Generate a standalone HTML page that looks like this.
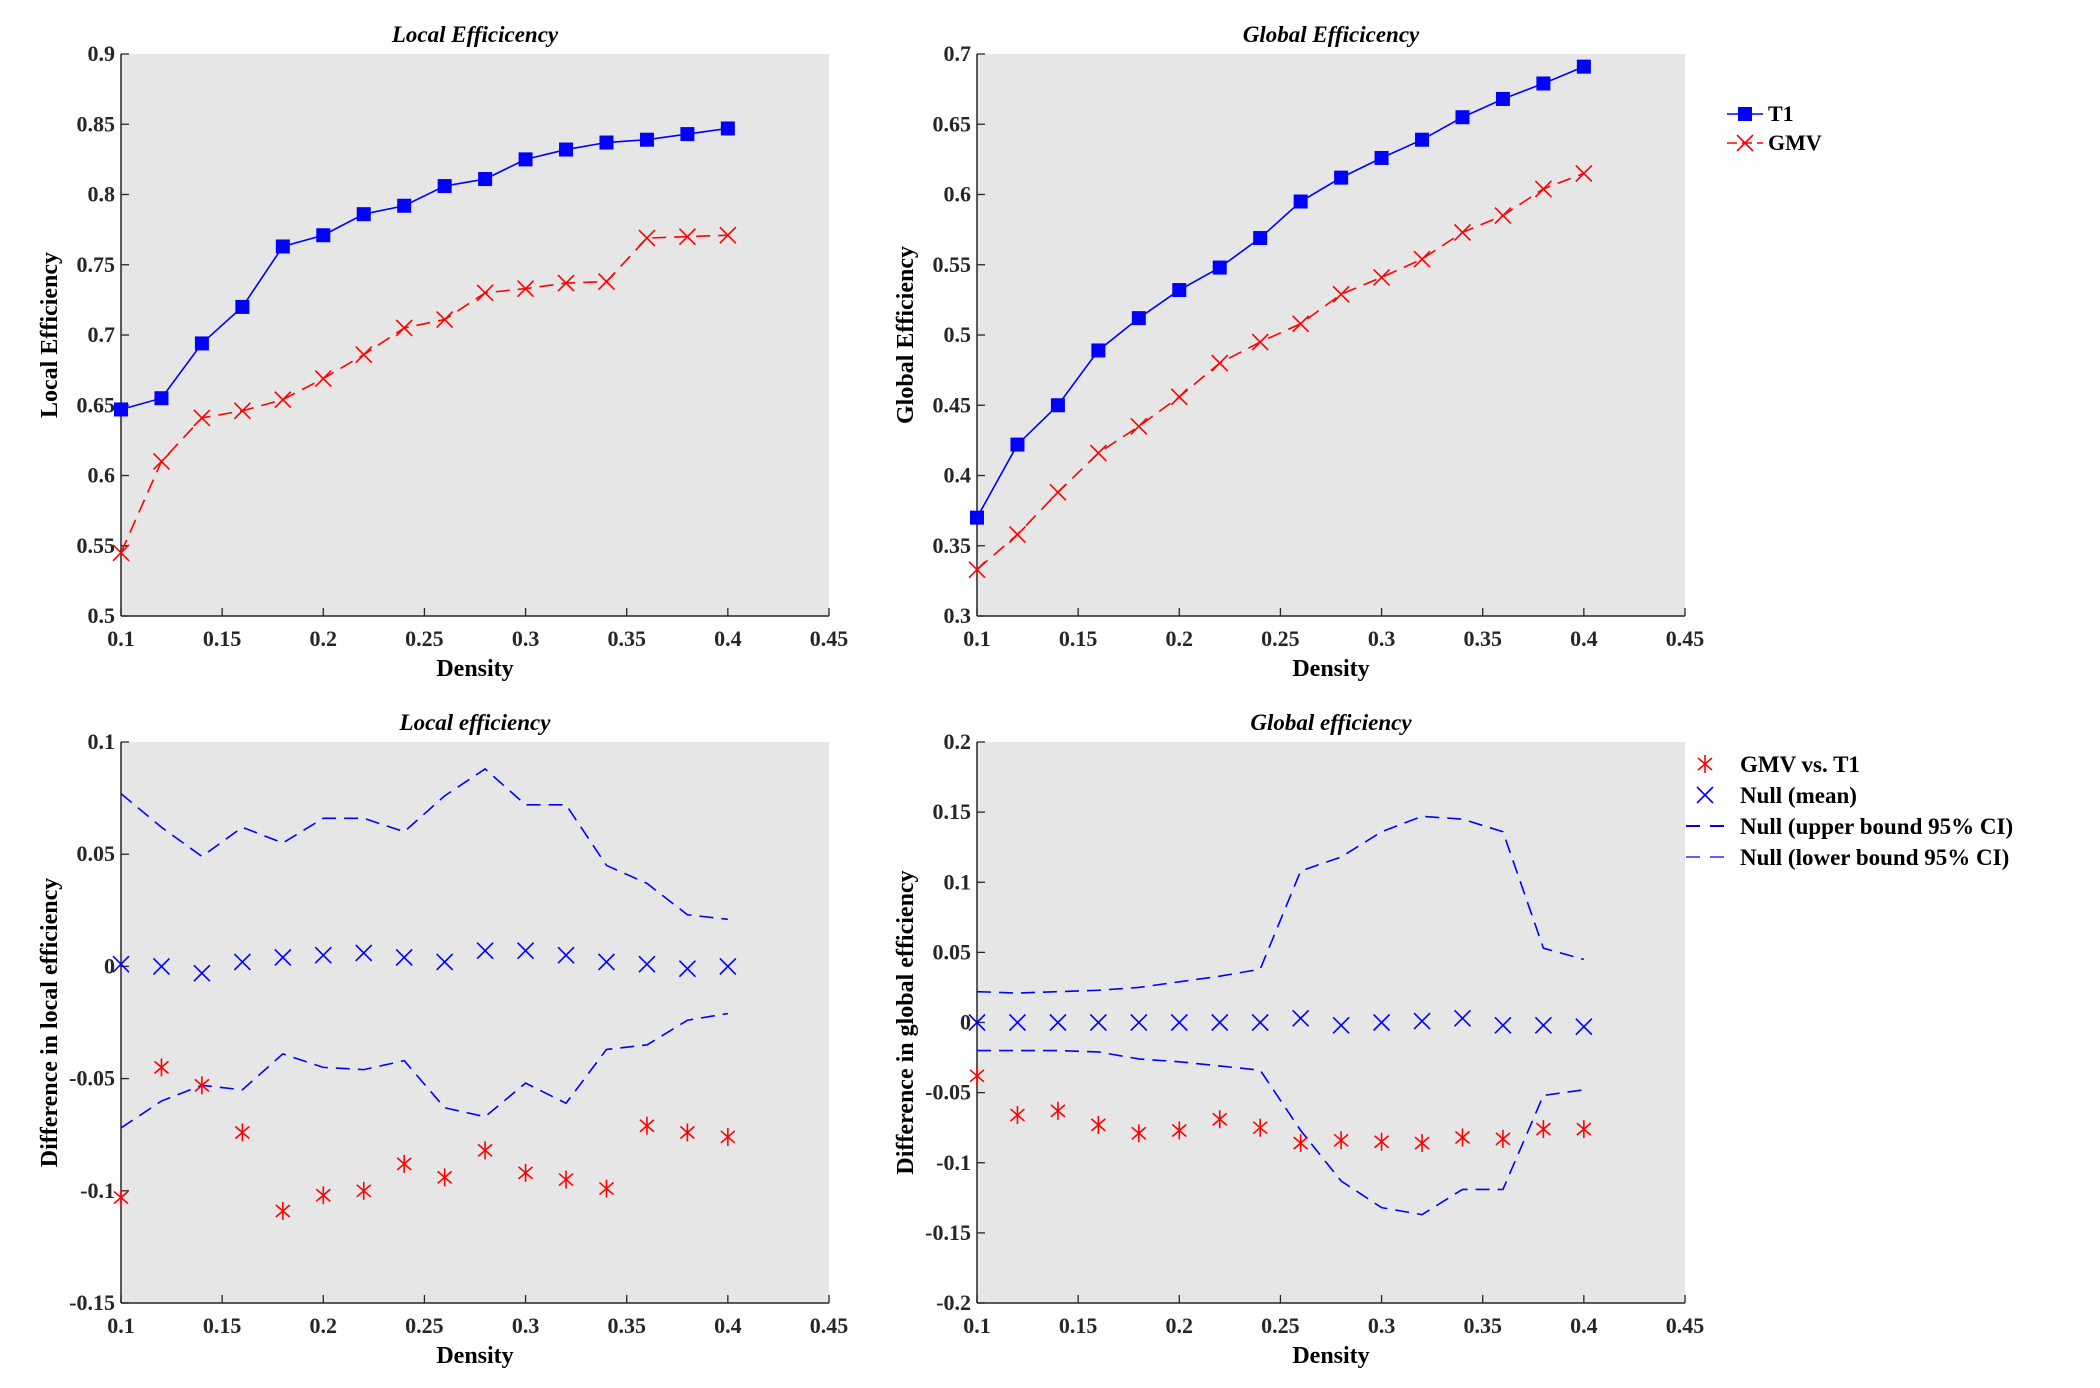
<!DOCTYPE html>
<html><head><meta charset="utf-8">
<style>
html,body{margin:0;padding:0;background:#fff;}
svg text{font-family:"Liberation Serif",serif;}
</style></head>
<body>
<svg id="fig" width="2100" height="1383" viewBox="0 0 2100 1383" xmlns="http://www.w3.org/2000/svg"></svg>
<script>
const xVals=[0.1,0.12,0.14,0.16,0.18,0.2,0.22,0.24,0.26,0.28,0.3,0.32,0.34,0.36,0.38,0.4];
const xTicks=[0.1,0.15,0.2,0.25,0.3,0.35,0.4,0.45];
const localT1=[0.647,0.655,0.694,0.720,0.763,0.771,0.786,0.792,0.806,0.811,0.825,0.832,0.837,0.839,0.843,0.847];
const localGMV=[0.545,0.610,0.641,0.646,0.654,0.669,0.686,0.705,0.711,0.730,0.733,0.737,0.738,0.769,0.770,0.771];
const globalT1=[0.370,0.422,0.450,0.489,0.512,0.532,0.548,0.569,0.595,0.612,0.626,0.639,0.655,0.668,0.679,0.691];
const globalGMV=[0.333,0.358,0.388,0.416,0.435,0.456,0.480,0.495,0.508,0.529,0.541,0.554,0.573,0.585,0.604,0.615];
const locUpper=[0.077,0.062,0.049,0.062,0.055,0.066,0.066,0.060,0.076,0.088,0.072,0.072,0.045,0.037,0.023,0.021];
const locMean=[0.001,0,-0.003,0.002,0.004,0.005,0.006,0.004,0.002,0.007,0.007,0.005,0.002,0.001,-0.001,0];
const locLower=[-0.072,-0.060,-0.053,-0.055,-0.039,-0.045,-0.046,-0.042,-0.063,-0.067,-0.052,-0.061,-0.037,-0.035,-0.024,-0.021];
const locDiff=[-0.103,-0.045,-0.053,-0.074,-0.109,-0.102,-0.100,-0.088,-0.094,-0.082,-0.092,-0.095,-0.099,-0.071,-0.074,-0.076];
const gloUpper=[0.022,0.021,0.022,0.023,0.025,0.029,0.033,0.038,0.108,0.118,0.136,0.147,0.145,0.136,0.053,0.045];
const gloMean=[0,0,0,0,0,0,0,0,0.003,-0.002,0,0.001,0.003,-0.002,-0.002,-0.003];
const gloLower=[-0.020,-0.020,-0.020,-0.021,-0.026,-0.028,-0.031,-0.034,-0.077,-0.113,-0.132,-0.137,-0.119,-0.119,-0.052,-0.048];
const gloDiff=[-0.038,-0.066,-0.063,-0.073,-0.079,-0.077,-0.069,-0.075,-0.086,-0.084,-0.085,-0.086,-0.082,-0.083,-0.076,-0.076];
const yTicksLocal=[0.5,0.55,0.6,0.65,0.7,0.75,0.8,0.85,0.9];
const yTicksGlobal=[0.3,0.35,0.4,0.45,0.5,0.55,0.6,0.65,0.7];
const yTicksLocDiff=[-0.15,-0.1,-0.05,0,0.05,0.1];
const yTicksGloDiff=[-0.2,-0.15,-0.1,-0.05,0,0.05,0.1,0.15,0.2];

const NS="http://www.w3.org/2000/svg";
const svg=document.getElementById('fig');
function mk(tag,attrs,parent,text){
  const e=document.createElementNS(NS,tag);
  for(const k in attrs)e.setAttribute(k,attrs[k]);
  if(text!==undefined)e.textContent=text;
  (parent||svg).appendChild(e);return e;
}
function fmt(v){let s=String(Math.round(v*1000)/1000);if(s==='-0')s='0';return s;}

function panel(name,L,R,T,B,ymin,ymax,yTicks,title,ylabel){
  const g=mk('g',{});
  
  
  const sx=v=>L+(v-0.1)/(0.45-0.1)*(R-L);
  const sy=v=>B-(v-ymin)/(ymax-ymin)*(B-T);
  const bg=mk('rect',{x:L,y:T,width:R-L,height:B-T,fill:'#e6e6e6'},g);
  
  
  mk('line',{x1:L,y1:B,x2:R,y2:B,stroke:'#262626','stroke-width':1.5},g);
  mk('line',{x1:L,y1:T,x2:L,y2:B,stroke:'#262626','stroke-width':1.5},g);
  xTicks.forEach(t=>{
    const x=sx(t);
    mk('line',{x1:x,y1:B,x2:x,y2:B-8,stroke:'#262626','stroke-width':1.3},g);
    const tx=mk('text',{x:x,y:B+30,'text-anchor':'middle','font-size':22,'font-weight':'bold',fill:'#262626'},g,fmt(t));
    
    
  });
  yTicks.forEach(t=>{
    const y=sy(t);
    mk('line',{x1:L,y1:y,x2:L+8,y2:y,stroke:'#262626','stroke-width':1.3},g);
    const ty=mk('text',{x:L-6,y:y+7,'text-anchor':'end','font-size':22,'font-weight':'bold',fill:'#262626'},g,fmt(t));
    
    
  });
  const tt=mk('text',{x:(L+R)/2,y:T-12,'text-anchor':'middle','font-size':23,'font-weight':'bold','font-style':'italic',fill:'#000'},g,title);
  
  
  const xl=mk('text',{x:(L+R)/2,y:B+60,'text-anchor':'middle','font-size':24,'font-weight':'bold',fill:'#000'},g,'Density');
  
  
  const yl=mk('text',{x:0,y:0,'text-anchor':'middle','font-size':24,'font-weight':'bold',fill:'#000',transform:`translate(${L-64},${(T+B)/2}) rotate(-90)`},g,ylabel);
  
  
  return {g,sx,sy};
}
function line(p,vals,color,dash,w,name){
  const pts=vals.map((v,i)=>p.sx(xVals[i])+','+p.sy(v)).join(' ');
  const pl=mk('polyline',{points:pts,fill:'none',stroke:color,'stroke-width':w||1.6,'stroke-dasharray':dash||'none'},p.g);
  
  
}
function square(p,x,y,c){const s=mk('rect',{x:x-7,y:y-7,width:14,height:14,fill:c},p.g);}
function cross(p,x,y,c,r){r=r||8;const g=mk('g',{stroke:c,'stroke-width':1.6},p.g);
  mk('line',{x1:x-r,y1:y-r,x2:x+r,y2:y+r},g);mk('line',{x1:x-r,y1:y+r,x2:x+r,y2:y-r},g);}
function star(p,x,y,c){const g=mk('g',{stroke:c,'stroke-width':1.6},p.g);
  const r=9;mk('line',{x1:x,y1:y-r,x2:x,y2:y+r},g);mk('line',{x1:x-7,y1:y-6,x2:x+7,y2:y+6},g);mk('line',{x1:x-7,y1:y+6,x2:x+7,y2:y-6},g);}

// top-left
let p=panel('local-efficiency-panel',121,829,54,616,0.5,0.9,yTicksLocal,'Local Efficicency','Local Efficiency');
line(p,localT1,'#0000ff',null,1.6,'t1-line');
line(p,localGMV,'#ff0000','14 8',1.6,'gmv-line');
localT1.forEach((v,i)=>square(p,p.sx(xVals[i]),p.sy(v),'#0000ff'));
localGMV.forEach((v,i)=>cross(p,p.sx(xVals[i]),p.sy(v),'#ff0000'));
// top-right
p=panel('global-efficiency-panel',977,1685,54,616,0.3,0.7,yTicksGlobal,'Global Efficicency','Global Efficiency');
line(p,globalT1,'#0000ff',null,1.6,'t1-line');
line(p,globalGMV,'#ff0000','14 8',1.6,'gmv-line');
globalT1.forEach((v,i)=>square(p,p.sx(xVals[i]),p.sy(v),'#0000ff'));
globalGMV.forEach((v,i)=>cross(p,p.sx(xVals[i]),p.sy(v),'#ff0000'));
// bottom-left
p=panel('local-difference-panel',121,829,742,1303,-0.15,0.1,yTicksLocDiff,'Local efficiency','Difference in local efficiency');
line(p,locUpper,'#0000ff','14 8',1.6,'null-upper-line');
line(p,locLower,'#0000ff','14 8',1.6,'null-lower-line');
locMean.forEach((v,i)=>cross(p,p.sx(xVals[i]),p.sy(v),'#0000ff'));
locDiff.forEach((v,i)=>star(p,p.sx(xVals[i]),p.sy(v),'#ff0000'));
// bottom-right
p=panel('global-difference-panel',977,1685,742,1303,-0.2,0.2,yTicksGloDiff,'Global efficiency','Difference in global efficiency');
line(p,gloUpper,'#0000ff','14 8',1.6,'null-upper-line');
line(p,gloLower,'#0000ff','14 8',1.6,'null-lower-line');
gloMean.forEach((v,i)=>cross(p,p.sx(xVals[i]),p.sy(v),'#0000ff'));
gloDiff.forEach((v,i)=>star(p,p.sx(xVals[i]),p.sy(v),'#ff0000'));

// legends
const lg1=mk('g',{});


const lp={g:lg1};
mk('line',{x1:1727,y1:114,x2:1763,y2:114,stroke:'#0000ff','stroke-width':1.6},lg1);square(lp,1745,114,'#0000ff');
mk('text',{x:1768,y:121,'font-size':22,'font-weight':'bold'},lg1,'T1');
mk('line',{x1:1727,y1:143,x2:1763,y2:143,stroke:'#ff0000','stroke-width':1.6,'stroke-dasharray':'10 5'},lg1);cross(lp,1745,143,'#ff0000');
mk('text',{x:1768,y:150,'font-size':22,'font-weight':'bold'},lg1,'GMV');

const lg2=mk('g',{});


const lp2={g:lg2};
star(lp2,1705,764,'#ff0000');
mk('text',{x:1740,y:772,'font-size':23,'font-weight':'bold'},lg2,'GMV vs. T1');
cross(lp2,1705,795,'#0000ff');
mk('text',{x:1740,y:803,'font-size':23,'font-weight':'bold'},lg2,'Null (mean)');
mk('line',{x1:1686,y1:826,x2:1724,y2:826,stroke:'#0000ff','stroke-width':2,'stroke-dasharray':'14 10'},lg2);
mk('text',{x:1740,y:834,'font-size':23,'font-weight':'bold'},lg2,'Null (upper bound 95% CI)');
mk('line',{x1:1686,y1:857,x2:1724,y2:857,stroke:'#0000ff','stroke-width':1.3,'stroke-dasharray':'14 10'},lg2);
mk('text',{x:1740,y:865,'font-size':23,'font-weight':'bold'},lg2,'Null (lower bound 95% CI)');
</script>
</body></html>
